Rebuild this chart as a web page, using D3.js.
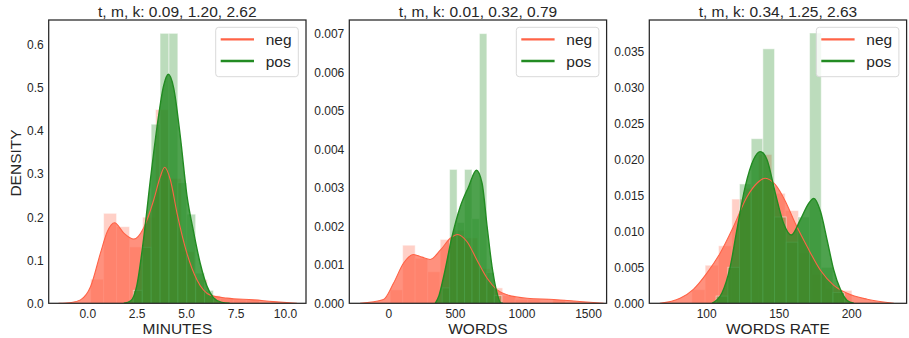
<!DOCTYPE html>
<html>
<head>
<meta charset="utf-8">
<script src="https://cdn.jsdelivr.net/npm/d3@7"></script>
<style>
  html, body { margin: 0; padding: 0; background: #fff; }
  svg text { font-family: "Liberation Sans", Arial, sans-serif; fill: #262626; }
</style>
</head>
<body>
<div id="chart"></div>
<script>
// values

const titles = ['t, m, k: 0.09, 1.20, 2.62', 't, m, k: 0.01, 0.32, 0.79', 't, m, k: 0.34, 1.25, 2.63'];
const xLabels = ['MINUTES', 'WORDS', 'WORDS RATE'];
const seriesNames = ['neg', 'pos'];

const minutesXDomain = [-1.95, 11.06];
const minutesYMax = 0.658;
const minutesXTicks = [0, 2.5, 5, 7.5, 10];
const minutesYTicks = [0, 0.1, 0.2, 0.3, 0.4, 0.5, 0.6];
const minutesNegBinStart = 0.17, minutesNegBinWidth = 0.656;
const minutesNegHist = [0.056, 0.209, 0.178, 0.131, 0.20, 0.45, 0.29, 0.12, 0.055, 0.018, 0.012, 0.008, 0.008, 0.0];
const minutesPosBinStart = 2.33, minutesPosBinWidth = 0.45;
const minutesPosHist = [0.03, 0.13, 0.416, 0.627, 0.627, 0.28, 0.207, 0.07, 0.03];
const minutesNegKde = [[-1.45, 0], [-0.8, 0.002], [-0.34, 0.008], [0.17, 0.039], [0.67, 0.117], [1.01, 0.166], [1.38, 0.187],
  [1.85, 0.163], [2.35, 0.149], [2.85, 0.175], [3.36, 0.24], [3.70, 0.295], [3.91, 0.316], [4.20, 0.287], [4.54, 0.209],
  [5.04, 0.116], [5.55, 0.054], [6.22, 0.019], [7.06, 0.012], [8.40, 0.008], [9.39, 0.004], [10.6, 0]];
const minutesPosKde = [[1.85, 0], [2.2, 0.006], [2.5, 0.04], [2.85, 0.15], [3.2, 0.29], [3.53, 0.41], [3.86, 0.505],
  [4.1, 0.532], [4.37, 0.5], [4.71, 0.385], [5.04, 0.25], [5.38, 0.165], [5.71, 0.093], [6.05, 0.04], [6.38, 0.013],
  [6.8, 0.002], [7.2, 0]];

const wordsXDomain = [-294, 1640];
const wordsYMax = 0.007364;
const wordsXTicks = [0, 500, 1000, 1500];
const wordsYTicks = [0, 0.001, 0.002, 0.003, 0.004, 0.005, 0.006, 0.007];
const wordsNegBinStart = 13, wordsNegBinWidth = 94;
const wordsNegHist = [0.00035, 0.00151, 0.00117, 0.00082, 0.00166, 0.0019, 0.0017, 0.0009, 0.0004, 0.0002, 0.0001, 0.0001, 0.0, 0.0001];
const wordsPosBinStart = 404, wordsPosBinWidth = 56;
const wordsPosHist = [0.0004, 0.00348, 0.0021, 0.00348, 0.0022, 0.00701, 0.0008, 0.0002];
const wordsNegKde = [[-213, 0], [-37, 0.0001], [38, 0.00052], [113, 0.00104], [188, 0.00127], [252, 0.0012], [314, 0.00114],
  [390, 0.00138], [465, 0.00169], [520, 0.00179], [591, 0.0016], [666, 0.00112], [742, 0.00065], [817, 0.00035],
  [892, 0.00022], [1043, 0.00013], [1243, 0.0001], [1394, 0.00006], [1618, 0]];
const wordsPosKde = [[352, 0], [380, 0.0002], [415, 0.00069], [478, 0.00173], [540, 0.00251], [603, 0.00303], [661, 0.00346],
  [704, 0.00312], [742, 0.00199], [779, 0.00095], [817, 0.00026], [842, 0.00002], [860, 0]];

const rateXDomain = [60.8, 238.2];
const rateYMax = 0.03941;
const rateXTicks = [100, 150, 200];
const rateYTicks = [0, 0.005, 0.01, 0.015, 0.02, 0.025, 0.03, 0.035];
const rateNegBinStart = 90.1, rateNegBinWidth = 9.2;
const rateNegHist = [0.0019, 0.0053, 0.008, 0.0145, 0.016, 0.0207, 0.0153, 0.0129, 0.007, 0.004, 0.002, 0.0018];
const ratePosBinStart = 106.9, ratePosBinWidth = 8.05;
const ratePosHist = [0.001, 0.005, 0.0166, 0.0229, 0.0354, 0.012, 0.0085, 0.012, 0.0376, 0.005, 0.0015];
const rateNegKde = [[68, 0], [82, 0.0007], [91.2, 0.00195], [100.5, 0.0042], [109.7, 0.007], [118.9, 0.0107], [128.1, 0.0148],
  [135, 0.0167], [140.8, 0.0174], [147.7, 0.0165], [154.6, 0.0142], [161.5, 0.0111], [169.6, 0.0079], [178.8, 0.0046],
  [188, 0.0025], [197.2, 0.0014], [211, 0.00056], [229.4, 0]];
const ratePosKde = [[104, 0], [110.8, 0.0014], [116.6, 0.0051], [121.2, 0.0102], [126.9, 0.0162], [132.7, 0.02], [137.3, 0.0211],
  [141.9, 0.02], [147.7, 0.0153], [153.4, 0.0111], [158.7, 0.0095], [164.9, 0.0116], [170.7, 0.0139], [174.2, 0.0146],
  [178.8, 0.0128], [183.4, 0.0088], [188, 0.0046], [192.6, 0.0019], [197.2, 0.0004], [201.8, 0]];

// panels are built from the arrays above
const panels = [
  { xDomain: minutesXDomain, yMax: minutesYMax, xTicks: minutesXTicks, yTicks: minutesYTicks, xFmt: '.1f', yFmt: '.1f',
    hist: [[minutesNegBinStart, minutesNegBinWidth, minutesNegHist], [minutesPosBinStart, minutesPosBinWidth, minutesPosHist]],
    kde: [minutesNegKde, minutesPosKde] },
  { xDomain: wordsXDomain, yMax: wordsYMax, xTicks: wordsXTicks, yTicks: wordsYTicks, xFmt: 'd', yFmt: '.3f',
    hist: [[wordsNegBinStart, wordsNegBinWidth, wordsNegHist], [wordsPosBinStart, wordsPosBinWidth, wordsPosHist]],
    kde: [wordsNegKde, wordsPosKde] },
  { xDomain: rateXDomain, yMax: rateYMax, xTicks: rateXTicks, yTicks: rateYTicks, xFmt: 'd', yFmt: '.3f',
    hist: [[rateNegBinStart, rateNegBinWidth, rateNegHist], [ratePosBinStart, ratePosBinWidth, ratePosHist]],
    kde: [rateNegKde, ratePosKde] }
];

const colors = ['#ff6347', '#228b22'];
const fillAlpha = [0.7, 0.8];
const width = 909, height = 338;
const panelLeft = [48.7, 349.3, 649.3];
const panelW = 257.3, plotTop = 20, plotBottom = 303.3;

const svg = d3.select('#chart').append('svg')
  .attr('width', width)
  .attr('height', height);

panels.forEach((p, i) => {
  const x0 = panelLeft[i];
  const x = d3.scaleLinear().domain(p.xDomain).range([x0, x0 + panelW]);
  const y = d3.scaleLinear().domain([0, p.yMax]).range([plotBottom, plotTop]);

  const clipId = 'clip' + i;
  svg.append('clipPath').attr('id', clipId)
    .append('rect').attr('x', x0).attr('y', plotTop).attr('width', panelW).attr('height', plotBottom - plotTop);

  const g = svg.append('g').attr('clip-path', `url(#${clipId})`);

  const area = d3.area().x(d => x(d[0])).y0(y(0)).y1(d => y(d[1])).curve(d3.curveMonotoneX);
  const line = d3.line().x(d => x(d[0])).y(d => y(d[1])).curve(d3.curveMonotoneX);

  // bars and KDE fills first (neg then pos), KDE lines on top like matplotlib zorder
  p.hist.forEach(([start, w, vals], s) => {
    g.append('g').selectAll('rect')
      .data(vals)
      .enter().append('rect')
      .attr('x', (d, k) => x(start + k * w))
      .attr('width', (d, k) => x(start + (k + 1) * w) - x(start + k * w))
      .attr('y', d => y(d))
      .attr('height', d => y(0) - y(d))
      .attr('fill', colors[s])
      .attr('fill-opacity', 0.3)
      .attr('stroke', '#fff')
      .attr('stroke-opacity', 0.5)
      .attr('stroke-width', 1);

    g.append('path')
      .datum(p.kde[s])
      .attr('d', area)
      .attr('fill', colors[s])
      .attr('fill-opacity', fillAlpha[s]);
  });

  p.kde.forEach((pts, s) => {
    g.append('path')
      .datum(pts)
      .attr('d', line)
      .attr('fill', 'none')
      .attr('stroke', colors[s])
      .attr('stroke-width', s === 0 ? 1.1 : 1.4);
  });

  // frame
  svg.append('rect')
    .attr('x', x0).attr('y', plotTop)
    .attr('width', panelW).attr('height', plotBottom - plotTop)
    .attr('fill', 'none')
    .attr('stroke', '#262626')
    .attr('stroke-width', 1.25);

  // axes without tick marks
  const xAxis = d3.axisBottom(x).tickValues(p.xTicks).tickSize(0).tickPadding(6).tickFormat(d3.format(p.xFmt));
  const yAxis = d3.axisLeft(y).tickValues(p.yTicks).tickSize(0).tickPadding(5).tickFormat(d3.format(p.yFmt));

  const gx = svg.append('g').attr('transform', `translate(0,${plotBottom})`).call(xAxis);
  const gy = svg.append('g').attr('transform', `translate(${x0},0)`).call(yAxis);
  [gx, gy].forEach(a => {
    a.select('.domain').remove();
    a.selectAll('text').style('font-size', '12px').attr('fill', '#262626');
  });

  svg.append('text')
    .attr('x', x0 + panelW / 2).attr('y', 17)
    .attr('text-anchor', 'middle')
    .style('font-size', '15.5px')
    .text(titles[i]);

  svg.append('text')
    .attr('x', x0 + panelW / 2).attr('y', 334)
    .attr('text-anchor', 'middle')
    .style('font-size', '15.5px')
    .text(xLabels[i]);

  // legend
  const lx = x0 + panelW - 90.3, ly = 27.3;
  const lg = svg.append('g');
  lg.append('rect')
    .attr('x', lx).attr('y', ly)
    .attr('width', 82.6).attr('height', 49.4)
    .attr('rx', 3)
    .attr('fill', '#fff').attr('fill-opacity', 0.8)
    .attr('stroke', '#d9d9d9').attr('stroke-width', 1);
  seriesNames.forEach((name, s) => {
    const yy = ly + 12 + s * 21.7;
    lg.append('line')
      .attr('x1', lx + 5).attr('x2', lx + 38.3)
      .attr('y1', yy).attr('y2', yy)
      .attr('stroke', colors[s]).attr('stroke-width', 2.3);
    lg.append('text')
      .attr('x', lx + 50).attr('y', yy + 5.5)
      .style('font-size', '15.5px')
      .text(name);
  });
});

svg.append('text')
  .attr('transform', 'translate(21,163) rotate(-90)')
  .attr('text-anchor', 'middle')
  .style('font-size', '15.5px')
  .text('DENSITY');
</script>
</body>
</html>
